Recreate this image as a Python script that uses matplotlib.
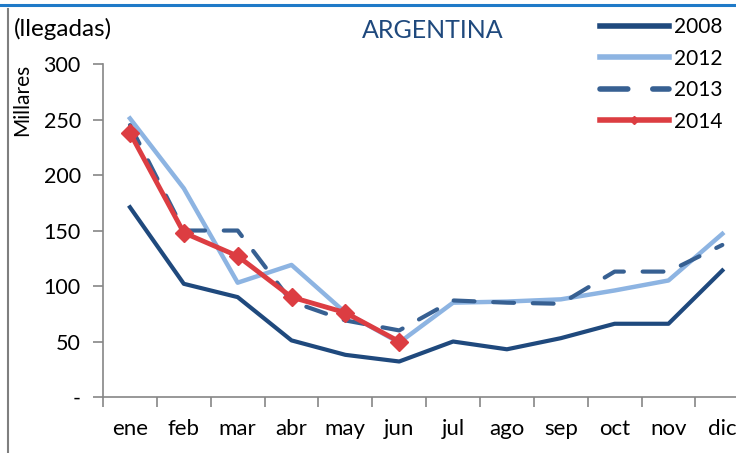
import numpy as np
import matplotlib.pyplot as plt
from matplotlib.lines import Line2D

plt.rcParams['font.family'] = ['Lato', 'DejaVu Sans']

# datos (miles de llegadas)
meses = ['ene', 'feb', 'mar', 'abr', 'may', 'jun',
         'jul', 'ago', 'sep', 'oct', 'nov', 'dic']
y2008 = [171, 102, 90, 51, 38, 32, 50, 43, 53, 66, 66, 114]
y2012 = [251, 188, 103, 119, 76, 49, 85, 86, 88, 96, 105, 147]
y2013 = [245, 150, 150, 86, 69, 60, 87, 85, 84, 113, 113, 137]
y2014 = [238, 148, 127, 90, 76, 50]
yticks = [0, 50, 100, 150, 200, 250, 300]
ylabels = ['-', '50', '100', '150', '200', '250', '300']

c2008 = '#1F497D'
c2012 = '#8DB4E2'
c2013 = '#376092'
c2014 = '#DC3D42'

fig = plt.figure(figsize=(7.36, 4.53), dpi=100)
ax = fig.add_axes([0.140, 0.1236, 0.878, 0.735])

x = np.arange(len(meses))
ax.plot(x, y2008, color=c2008, lw=3, label='2008', solid_joinstyle='round')
ax.plot(x, y2012, color=c2012, lw=3.2, label='2012', solid_joinstyle='round')
ax.plot(x, y2013, color=c2013, lw=3, dashes=(5, 4.5), dash_capstyle='round',
        label='2013')
ax.plot(x[:len(y2014)], y2014, color=c2014, lw=3.5, marker='D', ms=9,
        label='2014')

ax.set_xlim(-0.5, 11.5)
ax.set_ylim(0, 300)
ax.set_yticks(yticks)
ax.set_yticklabels(ylabels, fontsize=15.5)
ax.set_xticks(x)
ax.set_xticklabels(meses, fontsize=16)
ax.set_xticks(np.arange(-0.5, 12, 1), minor=True)
ax.tick_params(axis='x', which='major', length=0, pad=16)
ax.tick_params(axis='x', which='minor', length=7, color='#868686', width=1.2)
ax.tick_params(axis='y', length=7, color='#868686', width=1.2, pad=9)

for s in ['top', 'right']:
    ax.spines[s].set_visible(False)
for s in ['left', 'bottom']:
    ax.spines[s].set_color('#868686')
    ax.spines[s].set_linewidth(1.2)

fig.text(0.019, 0.935, '(llegadas)', fontsize=17.5, va='center')
fig.text(0.588, 0.933, 'ARGENTINA', fontsize=18, color='#1F497D',
         ha='center', va='center')
fig.text(0.030, 0.78, 'Millares', fontsize=15, rotation=90,
         ha='center', va='center')

leg = ax.legend(loc='upper left', bbox_to_anchor=(0.815, 0.962),
                bbox_transform=fig.transFigure, frameon=False,
                fontsize=15, handlelength=3.3, handletextpad=0.25,
                labelspacing=0.55, borderpad=0, borderaxespad=0)
for h in leg.get_lines():
    h.set_linewidth(4)
    if h.get_marker() == 'D':
        h.set_markersize(4)

# marco
fig.add_artist(Line2D([0, 1], [0.989, 0.989], transform=fig.transFigure,
                      color='#1F7AC8', lw=2.2))
fig.add_artist(Line2D([0.011, 0.011], [0, 0.98], transform=fig.transFigure,
                      color='#7F7F7F', lw=1.5))

fig.savefig('out.png', dpi=100)
